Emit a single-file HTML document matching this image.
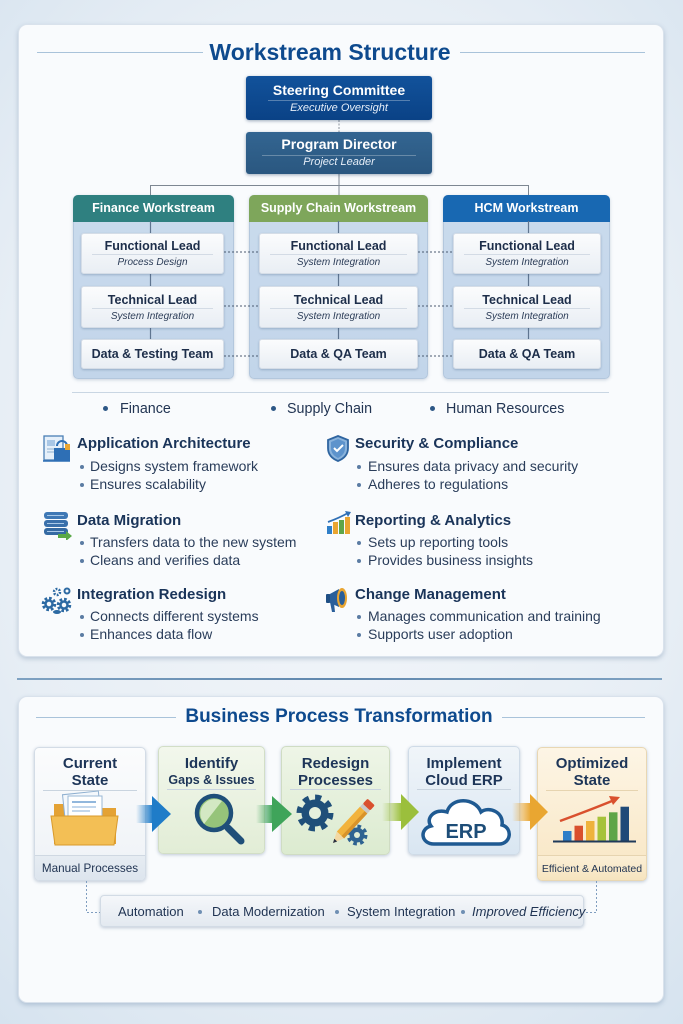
<!DOCTYPE html>
<html><head><meta charset="utf-8">
<style>
*{margin:0;padding:0;box-sizing:border-box}
html,body{width:683px;height:1024px;overflow:hidden}
body{position:relative;font-family:"Liberation Sans",Arial,sans-serif;background:radial-gradient(ellipse 85% 75% at 50% 45%,#f4f7fa 0%,#e7eef5 60%,#d3e1ee 100%);color:#1d2e4a}
.a{position:absolute}
.card{position:absolute;left:18px;width:646px;background:#f9fbfd;border:1px solid #d9e2ec;border-radius:9px;box-shadow:0 2px 5px rgba(70,100,140,.28)}
.c{position:absolute;text-align:center;white-space:nowrap}
.l{position:absolute;white-space:nowrap}
.col{position:absolute;top:195px;height:184px;background:linear-gradient(#cadbed,#c2d5ea);border:1px solid #b3c7dd;border-radius:5px;box-shadow:0 1px 3px rgba(60,90,130,.25)}
.hd{position:absolute;left:-1px;right:-1px;top:-1px;height:27px;border-radius:5px 5px 0 0;color:#fff;font-weight:bold;font-size:12.5px;line-height:27px;text-align:center;white-space:nowrap}
.ib{position:absolute;background:linear-gradient(#fbfcfd,#e9eef4);border:1px solid #d5dde7;border-radius:3px;box-shadow:0 1px 2px rgba(50,80,120,.3)}
.it{position:absolute;left:0;right:0;text-align:center;font-weight:bold;font-size:12.5px;line-height:17px;color:#1d2e4a;white-space:nowrap}
.is{position:absolute;left:0;right:0;text-align:center;font-style:italic;font-size:10px;line-height:14px;color:#2b3c57;white-space:nowrap}
.dv{position:absolute;left:10px;right:10px;height:1px;background:#d3dbe5}
.sh{position:absolute;font-weight:bold;font-size:15px;line-height:18px;color:#1a3459;white-space:nowrap}
.bt{position:absolute;font-size:14px;line-height:17px;color:#2a3d5a;white-space:nowrap}
.bd{position:absolute;width:4px;height:4px;border-radius:2px;background:#5b7ca3}
.st{position:absolute;background:linear-gradient(#fbfcfd,#eef2f6);border:1px solid #d3dce6;border-radius:5px;box-shadow:0 1px 3px rgba(60,90,130,.3);overflow:hidden}
.stt{position:absolute;left:0;right:0;text-align:center;font-weight:bold;font-size:15px;line-height:17px;color:#1d3558;white-space:nowrap}
.sdv{position:absolute;left:8px;right:8px;top:42px;height:1px;background:#c9d4df}
.ft{position:absolute;font-size:13px;line-height:16px;color:#1f3352;white-space:nowrap}
</style></head><body>

<div class="card" style="top:24px;height:633px"></div>

<div class="a" style="left:37px;top:52px;width:166px;height:1px;background:#a9c3da"></div>
<div class="a" style="left:460px;top:52px;width:185px;height:1px;background:#a9c3da"></div>
<div class="c" style="left:180px;width:300px;top:38px;font-size:23px;line-height:28px;font-weight:bold;color:#0e4a8e">Workstream Structure</div>

<svg class="a" style="left:0;top:0" width="683" height="200">
<line x1="339" y1="120" x2="339" y2="132" stroke="#8a939d" stroke-width="1" stroke-dasharray="2 1.5"/>
<line x1="339" y1="174" x2="339" y2="185" stroke="#7d8792" stroke-width="1"/>
<line x1="150" y1="185.5" x2="528" y2="185.5" stroke="#7d8792" stroke-width="1"/>
<line x1="150.5" y1="185" x2="150.5" y2="195" stroke="#7d8792" stroke-width="1"/>
<line x1="339" y1="185" x2="339" y2="195" stroke="#7d8792" stroke-width="1"/>
<line x1="528.5" y1="185" x2="528.5" y2="195" stroke="#7d8792" stroke-width="1"/>
</svg>

<div class="a" style="left:246px;top:76px;width:186px;height:44px;background:linear-gradient(#12529b,#0a4286);border-radius:3px;box-shadow:0 1px 3px rgba(20,50,90,.4)"></div>
<div class="c" style="left:246px;width:186px;top:81px;line-height:18px;font-size:14px;font-weight:bold;color:#fff">Steering Committee</div>
<div class="a" style="left:268px;top:100px;width:142px;height:1px;background:rgba(255,255,255,.3)"></div>
<div class="c" style="left:246px;width:186px;top:101px;line-height:14px;font-size:11px;font-style:italic;color:#e6eef8">Executive Oversight</div>

<div class="a" style="left:246px;top:132px;width:186px;height:42px;background:linear-gradient(#336591,#2a5780);border-radius:3px;box-shadow:0 1px 3px rgba(20,50,90,.4)"></div>
<div class="c" style="left:246px;width:186px;top:135px;line-height:18px;font-size:14px;font-weight:bold;color:#fff">Program Director</div>
<div class="a" style="left:262px;top:155px;width:154px;height:1px;background:rgba(255,255,255,.28)"></div>
<div class="c" style="left:246px;width:186px;top:155px;line-height:14px;font-size:11px;font-style:italic;color:#e6eef8">Project Leader</div>

<div class="col" style="left:73px;width:161px"><div class="hd" style="background:#2f8080">Finance Workstream</div></div>
<div class="col" style="left:249px;width:179px"><div class="hd" style="background:#7ea65b">Supply Chain Workstream</div></div>
<div class="col" style="left:443px;width:167px"><div class="hd" style="background:#1868b2">HCM Workstream</div></div>

<svg class="a" style="left:0;top:190px" width="683" height="200">
<g stroke="#5f7590" stroke-width="1.2">
<line x1="150.5" y1="31" x2="150.5" y2="165"/>
<line x1="338.5" y1="31" x2="338.5" y2="165"/>
<line x1="528.5" y1="31" x2="528.5" y2="165"/>
</g>
<g stroke="#4a5a70" stroke-width="1" stroke-dasharray="2 2">
<line x1="224" y1="62" x2="259" y2="62"/><line x1="418" y1="62" x2="453" y2="62"/>
<line x1="224" y1="116" x2="259" y2="116"/><line x1="418" y1="116" x2="453" y2="116"/>
<line x1="224" y1="166" x2="259" y2="166"/><line x1="418" y1="166" x2="453" y2="166"/>
</g>
</svg>

<div class="ib" style="left:81px;top:233px;width:143px;height:41px"><div class="it" style="top:4px">Functional Lead</div><div class="dv" style="top:20px"></div><div class="is" style="top:22px">Process Design</div></div>
<div class="ib" style="left:81px;top:286px;width:143px;height:42px"><div class="it" style="top:5px">Technical Lead</div><div class="dv" style="top:21px"></div><div class="is" style="top:23px">System Integration</div></div>
<div class="ib" style="left:81px;top:339px;width:143px;height:30px"><div class="it" style="top:6px">Data &amp; Testing Team</div></div>
<div class="ib" style="left:259px;top:233px;width:159px;height:41px"><div class="it" style="top:4px">Functional Lead</div><div class="dv" style="top:20px"></div><div class="is" style="top:22px">System Integration</div></div>
<div class="ib" style="left:259px;top:286px;width:159px;height:42px"><div class="it" style="top:5px">Technical Lead</div><div class="dv" style="top:21px"></div><div class="is" style="top:23px">System Integration</div></div>
<div class="ib" style="left:259px;top:339px;width:159px;height:30px"><div class="it" style="top:6px">Data &amp; QA Team</div></div>
<div class="ib" style="left:453px;top:233px;width:148px;height:41px"><div class="it" style="top:4px">Functional Lead</div><div class="dv" style="top:20px"></div><div class="is" style="top:22px">System Integration</div></div>
<div class="ib" style="left:453px;top:286px;width:148px;height:42px"><div class="it" style="top:5px">Technical Lead</div><div class="dv" style="top:21px"></div><div class="is" style="top:23px">System Integration</div></div>
<div class="ib" style="left:453px;top:339px;width:148px;height:30px"><div class="it" style="top:6px">Data &amp; QA Team</div></div>

<div class="a" style="left:72px;top:392px;width:537px;height:1px;background:#c9d6e3"></div>

<div class="a" style="left:103px;top:406px;width:5px;height:5px;border-radius:3px;background:#2d5786"></div>
<div class="l" style="left:120px;top:400px;font-size:14.3px;line-height:18px;color:#223553">Finance</div>
<div class="a" style="left:271px;top:406px;width:5px;height:5px;border-radius:3px;background:#2d5786"></div>
<div class="l" style="left:287px;top:400px;font-size:14.3px;line-height:18px;color:#223553">Supply Chain</div>
<div class="a" style="left:430px;top:406px;width:5px;height:5px;border-radius:3px;background:#2d5786"></div>
<div class="l" style="left:446px;top:400px;font-size:14.3px;line-height:18px;color:#223553">Human Resources</div>

<svg class="a" style="left:40px;top:432px" width="36" height="34">
<rect x="4" y="4" width="19" height="24" fill="#e6f0fa" stroke="#4a7fb5" stroke-width="1.3"/>
<rect x="7" y="8" width="8" height="6" fill="#a9c7e6"/>
<line x1="7" y1="17" x2="17" y2="17" stroke="#8fb0d0"/><line x1="7" y1="20" x2="15" y2="20" stroke="#8fb0d0"/>
<path d="M17 14 a5 5 0 0 1 10 0 v3" fill="none" stroke="#2e6fb5" stroke-width="2"/>
<rect x="14" y="16" width="16" height="13" fill="#2e6fb5"/>
<rect x="25" y="12" width="5" height="6" fill="#e9a531"/>
<line x1="3" y1="29" x2="30" y2="29" stroke="#2e6fb5" stroke-width="1.5"/>
</svg>
<svg class="a" style="left:326px;top:434px" width="26" height="30">
<path d="M12 2 L22 6 V14 C22 21 17 25 12 27 C7 25 2 21 2 14 V6 Z" fill="#8ab3dc" stroke="#2f65a0" stroke-width="1.8"/>
<path d="M12 5 L19 8 V14 C19 19 16 22 12 24 C8 22 5 19 5 14 V8 Z" fill="#5d93cc"/>
<path d="M8 14 l3 3 l6 -6" fill="none" stroke="#fff" stroke-width="2"/>
</svg>
<svg class="a" style="left:42px;top:510px" width="32" height="30">
<rect x="2" y="2" width="24" height="7" rx="3" fill="#3f78b5"/>
<rect x="2" y="10" width="24" height="7" rx="3" fill="#3a70ab"/>
<rect x="2" y="18" width="24" height="7" rx="3" fill="#356aa3"/>
<line x1="5" y1="5.5" x2="22" y2="5.5" stroke="#a8c8e8" stroke-width="1"/>
<line x1="5" y1="13.5" x2="22" y2="13.5" stroke="#a8c8e8" stroke-width="1"/>
<line x1="5" y1="21.5" x2="22" y2="21.5" stroke="#a8c8e8" stroke-width="1"/>
<path d="M16 24 h8 v-3 l6 5 l-6 5 v-3 h-8 z" fill="#5aa847"/>
</svg>
<svg class="a" style="left:325px;top:510px" width="28" height="26">
<rect x="2" y="16" width="5" height="8" fill="#2f7fc8"/>
<rect x="8" y="12" width="5" height="12" fill="#e9a531"/>
<rect x="14" y="10" width="5" height="14" fill="#5fa548"/>
<rect x="20" y="7" width="5" height="17" fill="#e9a531"/>
<path d="M3 12 Q14 8 23 3" fill="none" stroke="#2f6fb5" stroke-width="1.8"/>
<path d="M20 1 L26 2 L23 7 Z" fill="#2f6fb5"/>
</svg>
<svg class="a" style="left:40px;top:585px" width="36" height="30">
<g fill="none" stroke="#2d6aa3">
<circle cx="9" cy="19" r="5.5" stroke-width="3.5" stroke-dasharray="2.5 1.8"/>
<circle cx="9" cy="19" r="3.5" stroke-width="2.5"/>
<circle cx="24" cy="20" r="5.5" stroke-width="3.5" stroke-dasharray="2.5 1.8"/>
<circle cx="24" cy="20" r="3.5" stroke-width="2.5"/>
<circle cx="17" cy="7" r="3" stroke-width="2.5" stroke-dasharray="1.8 1.3"/>
<circle cx="27" cy="6" r="2.5" stroke-width="2"/>
</g>
<ellipse cx="17" cy="27" rx="4" ry="2" fill="#2d6aa3"/>
</svg>
<svg class="a" style="left:325px;top:585px" width="28" height="30">
<path d="M3 10 L14 4 V22 L3 17 Z" fill="#2a5f9a"/>
<rect x="1" y="9" width="4" height="9" rx="1" fill="#1f4f85"/>
<path d="M5 17 L9 18 L10 27 L7 27 Z" fill="#2a5f9a"/>
<ellipse cx="17" cy="13" rx="5" ry="10" fill="#e9a531"/>
<ellipse cx="17" cy="13" rx="3" ry="7" fill="#2a5f9a"/>
</svg>

<div class="sh" style="left:77px;top:435px">Application Architecture</div>
<div class="bd" style="left:80px;top:465px"></div><div class="bt" style="left:90px;top:458px">Designs system framework</div>
<div class="bd" style="left:80px;top:483px"></div><div class="bt" style="left:90px;top:476px">Ensures scalability</div>

<div class="sh" style="left:77px;top:512px">Data Migration</div>
<div class="bd" style="left:80px;top:541px"></div><div class="bt" style="left:90px;top:534px">Transfers data to the new system</div>
<div class="bd" style="left:80px;top:559px"></div><div class="bt" style="left:90px;top:552px">Cleans and verifies data</div>

<div class="sh" style="left:77px;top:586px">Integration Redesign</div>
<div class="bd" style="left:80px;top:615px"></div><div class="bt" style="left:90px;top:608px">Connects different systems</div>
<div class="bd" style="left:80px;top:633px"></div><div class="bt" style="left:90px;top:626px">Enhances data flow</div>

<div class="sh" style="left:355px;top:435px">Security &amp; Compliance</div>
<div class="bd" style="left:357px;top:465px"></div><div class="bt" style="left:368px;top:458px">Ensures data privacy and security</div>
<div class="bd" style="left:357px;top:483px"></div><div class="bt" style="left:368px;top:476px">Adheres to regulations</div>

<div class="sh" style="left:355px;top:512px">Reporting &amp; Analytics</div>
<div class="bd" style="left:357px;top:541px"></div><div class="bt" style="left:368px;top:534px">Sets up reporting tools</div>
<div class="bd" style="left:357px;top:559px"></div><div class="bt" style="left:368px;top:552px">Provides business insights</div>

<div class="sh" style="left:355px;top:586px">Change Management</div>
<div class="bd" style="left:357px;top:615px"></div><div class="bt" style="left:368px;top:608px">Manages communication and training</div>
<div class="bd" style="left:357px;top:633px"></div><div class="bt" style="left:368px;top:626px">Supports user adoption</div>

<div class="a" style="left:17px;top:678px;width:645px;height:2px;background:linear-gradient(90deg,#7fa2c2,#5f87ad 50%,#7fa2c2)"></div>

<div class="card" style="top:696px;height:307px"></div>
<div class="a" style="left:36px;top:717px;width:140px;height:1px;background:#a9c3da"></div>
<div class="a" style="left:502px;top:717px;width:143px;height:1px;background:#a9c3da"></div>
<div class="c" style="left:139px;width:400px;top:705px;font-size:19px;line-height:24px;font-weight:bold;color:#0e4a8e">Business Process Transformation</div>

<div class="st" style="left:34px;top:747px;width:112px;height:134px">
<div class="stt" style="top:7px">Current</div><div class="stt" style="top:24px">State</div><div class="sdv"></div>
<div class="a" style="left:0;right:0;top:107px;bottom:0;background:linear-gradient(#e6ecf2,#dde5ee);border-top:1px solid #cfd8e2"></div>
<div class="c" style="left:0;right:0;top:113px;font-size:11.7px;line-height:15px;color:#223553">Manual Processes</div>
</div>
<div class="st" style="left:158px;top:746px;width:107px;height:108px;background:linear-gradient(#f2f7ec,#e2edd6);border-color:#d2dec6">
<div class="stt" style="top:8px">Identify</div><div class="stt" style="top:25px;font-size:12.5px">Gaps &amp; Issues</div><div class="sdv"></div>
</div>
<div class="st" style="left:281px;top:746px;width:109px;height:109px;background:linear-gradient(#eef5e7,#dcebd0);border-color:#cfdcc3">
<div class="stt" style="top:8px">Redesign</div><div class="stt" style="top:25px">Processes</div><div class="sdv"></div>
</div>
<div class="st" style="left:408px;top:746px;width:112px;height:109px;background:linear-gradient(#f0f5f9,#d9e6f2);border-color:#cfdbe7">
<div class="stt" style="top:8px">Implement</div><div class="stt" style="top:25px">Cloud ERP</div><div class="sdv"></div>
</div>
<div class="st" style="left:537px;top:747px;width:110px;height:134px;background:linear-gradient(#fdf5e5,#f8e6c3);border-color:#e8d7b3">
<div class="stt" style="top:7px">Optimized</div><div class="stt" style="top:24px">State</div><div class="sdv" style="background:#e6d4b0"></div>
<div class="a" style="left:0;right:0;top:107px;bottom:0;background:linear-gradient(#fbefd6,#f6e4bf);border-top:1px solid #e6d4b0"></div>
<div class="c" style="left:0;right:0;top:114px;font-size:10.5px;line-height:14px;color:#223553">Efficient &amp; Automated</div>
</div>

<svg class="a" style="left:0;top:780px" width="683" height="80">
<defs>
<linearGradient id="g1" x1="0" x2="1"><stop offset="0" stop-color="#1f7cc8" stop-opacity="0"/><stop offset="1" stop-color="#1f7cc8"/></linearGradient>
<linearGradient id="g2" x1="0" x2="1"><stop offset="0" stop-color="#3fa45a" stop-opacity="0"/><stop offset="1" stop-color="#3fa45a"/></linearGradient>
<linearGradient id="g3" x1="0" x2="1"><stop offset="0" stop-color="#9bbf3c" stop-opacity="0"/><stop offset="1" stop-color="#9bbf3c"/></linearGradient>
<linearGradient id="g4" x1="0" x2="1"><stop offset="0" stop-color="#e9a631" stop-opacity="0"/><stop offset="1" stop-color="#e9a631"/></linearGradient>
</defs>
<rect x="136" y="25" width="17" height="18" fill="url(#g1)"/><path d="M152 16 L171 34 L152 52 Z" fill="#1f7cc8"/>
<rect x="256" y="25" width="17" height="18" fill="url(#g2)"/><path d="M272 16 L292 34 L272 52 Z" fill="#3fa45a"/>
<rect x="382" y="23" width="20" height="18" fill="url(#g3)"/><path d="M401 14 L419 32 L401 50 Z" fill="#9bbf3c"/>
<rect x="512" y="23" width="19" height="18" fill="url(#g4)"/><path d="M530 14 L548 32 L530 50 Z" fill="#e9a631"/>

<path d="M54 24 h18 l4 4 h40 v36 h-62 z" fill="#e4a234"/>
<g transform="rotate(-6 80 28)"><rect x="64" y="13" width="36" height="28" fill="#f4f8fc" stroke="#8fb0d0"/></g>
<rect x="68" y="16" width="34" height="26" fill="#ffffff" stroke="#9ab8d6"/>
<line x1="72" y1="22" x2="96" y2="22" stroke="#6f9fd0" stroke-width="1.5"/>
<line x1="72" y1="27" x2="96" y2="27" stroke="#9fbfe0" stroke-width="1.2"/>
<line x1="72" y1="31" x2="90" y2="31" stroke="#9fbfe0" stroke-width="1.2"/>
<path d="M51 36 h67 l-4 29 h-59 z" fill="#f3bf55" stroke="#d99a2b" stroke-width="1"/>

<line x1="228" y1="48" x2="241" y2="61" stroke="#1f4f79" stroke-width="7" stroke-linecap="round"/>
<circle cx="214" cy="33" r="17" fill="#96c47a" stroke="#1f4f79" stroke-width="4.5"/>
<path d="M201 38 A14.5 14.5 0 0 1 222 21 L204 44 Z" fill="#d3e8c3"/>

<circle cx="315" cy="33" r="15.5" fill="none" stroke="#1f4f79" stroke-width="6" stroke-dasharray="6 6.17"/>
<circle cx="315" cy="33" r="13.5" fill="#1f4f79"/>
<circle cx="315" cy="33" r="6" fill="#e6f0dc"/>
<circle cx="357" cy="55" r="8.5" fill="none" stroke="#2f6391" stroke-width="4" stroke-dasharray="3.5 3.2"/>
<circle cx="357" cy="55" r="7.5" fill="#2f6391"/>
<circle cx="357" cy="55" r="3" fill="#e2edd6"/>
<g transform="translate(333,63) rotate(-47)">
<path d="M0 0 L11 -5 L11 5 Z" fill="#f3d9a4"/>
<path d="M0 0 L4 -2 L4 2 Z" fill="#2a3040"/>
<rect x="11" y="-5" width="34" height="10" fill="#f2b33d"/>
<rect x="11" y="1.5" width="34" height="3.5" fill="#d9932a"/>
<rect x="45" y="-5" width="4" height="10" fill="#c9c9c9"/>
<rect x="49" y="-5" width="7" height="10" rx="1.5" fill="#d9502e"/>
</g>

<path d="M434 64 H499 C511 64 513 48 502 45 C504 32 489 26 481 32 C475 17 451 17 447 32 C435 28 425 38 431 46 C419 49 421 64 434 64 Z" fill="#fff" stroke="#1f5a92" stroke-width="3.5"/>
<text x="466" y="58" text-anchor="middle" font-family="Liberation Sans, Arial, sans-serif" font-weight="bold" font-size="20" fill="#1d4d78">ERP</text>

<rect x="563" y="51" width="8.5" height="10" fill="#2f7fc8"/>
<rect x="574.5" y="45.7" width="8.5" height="15.3" fill="#d9502e"/>
<rect x="586" y="41" width="8.5" height="20" fill="#efb23c"/>
<rect x="597.5" y="36.7" width="8.5" height="24.3" fill="#a7c23a"/>
<rect x="609" y="32.3" width="8.5" height="28.7" fill="#5fa548"/>
<rect x="620.5" y="26.7" width="8.5" height="34.3" fill="#1f4a78"/>
<line x1="553" y1="61.5" x2="636" y2="61.5" stroke="#1f3a5a" stroke-width="2"/>
<path d="M560 41 Q590 30 612 21" fill="none" stroke="#d9502e" stroke-width="2.5"/>
<path d="M609 16 L620 17 L613 25 Z" fill="#d9502e"/>
</svg>

<svg class="a" style="left:0;top:875px" width="683" height="50">
<path d="M86.5 6 V37.5 H100" fill="none" stroke="#7f9dbf" stroke-width="1" stroke-dasharray="2 2"/>
<path d="M596.5 6 V37.5 H584" fill="none" stroke="#7f9dbf" stroke-width="1" stroke-dasharray="2 2"/>
</svg>

<div class="a" style="left:100px;top:895px;width:484px;height:32px;background:linear-gradient(#f5f7fa,#e3e9f0);border:1px solid #d2dbe5;border-radius:4px;box-shadow:0 1px 3px rgba(60,90,130,.3)"></div>
<div class="ft" style="left:118px;top:904px">Automation</div>
<div class="a" style="left:198px;top:910px;width:4px;height:4px;border-radius:2px;background:#6f8fb3"></div>
<div class="ft" style="left:212px;top:904px">Data Modernization</div>
<div class="a" style="left:335px;top:910px;width:4px;height:4px;border-radius:2px;background:#6f8fb3"></div>
<div class="ft" style="left:347px;top:904px">System Integration</div>
<div class="a" style="left:461px;top:910px;width:4px;height:4px;border-radius:2px;background:#6f8fb3"></div>
<div class="ft" style="left:472px;top:904px;font-style:italic">Improved Efficiency</div>

</body></html>
